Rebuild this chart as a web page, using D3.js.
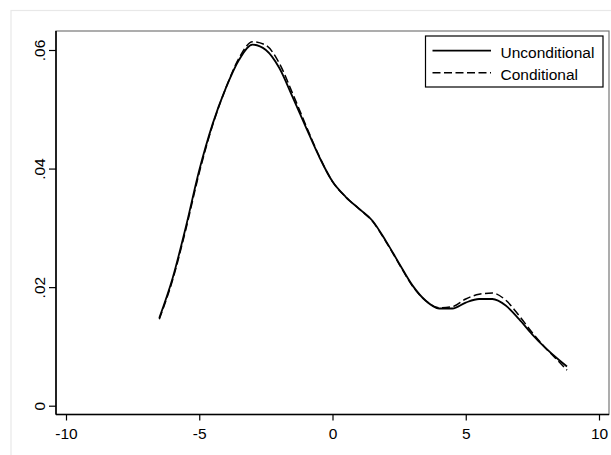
<!DOCTYPE html>
<meta charset="utf-8">
<style>
body { margin: 0; background: #fff; }
text { font-family: "Liberation Sans", Arial, sans-serif; fill: #000; }
.tick line { stroke: #000; stroke-width: 1.2px; }
.curve { fill: none; stroke: #000; }
</style>
<svg width="611" height="455"></svg>
<script src="https://d3js.org/d3.v7.min.js"></script>
<script>

// values
var xs = [-6.5, -6, -5.5, -5, -4.5, -4, -3.5, -3, -2.5, -2, -1.5, -1, -0.5, 0, 0.5, 1,
          1.5, 2, 2.5, 3, 3.5, 4, 4.5, 5, 5.5, 6, 6.5, 7, 7.5, 8, 8.5, 8.8];
var uncond = [.0148, .0215, .0302, .0397, .0475, .0536, .0584, .0609, .0600, .0570, .0521, .0470,
              .0420, .0378, .0352, .0332, .0312, .0278, .0240, .0203, .0177, .0164, .0164, .0174,
              .0180, .0180, .0169, .0146, .0120, .0097, .0077, .0066];
var cond = [.0146, .0212, .0298, .0393, .0473, .0536, .0587, .0614, .0608, .0578, .0527, .0473,
            .0421, .0378, .0352, .0332, .0311, .0277, .0239, .0202, .0177, .0165, .0167, .0180,
            .0188, .0190, .0178, .0152, .0123, .0097, .0074, .0060];
var xTicks = [-10, -5, 0, 5, 10];
var yTicks = [0, .02, .04, .06];
var yLabels = ["0", ".02", ".04", ".06"];
var seriesNames = ["Unconditional", "Conditional"];

var svg = d3.select("svg");

// light outer frame of the graph region
svg.append("rect")
    .attr("x", 11).attr("y", 10.5)
    .attr("width", 640).attr("height", 480)
    .attr("fill", "#fff")
    .attr("stroke", "#e8e8e8")
    .attr("stroke-width", 1.2);

var x = d3.scaleLinear().domain([-10, 10]).range([66, 599]);
var y = d3.scaleLinear().domain([0, .06]).range([405.7, 50]);

var pLeft = 56, pRight = 609, pTop = 31, pBottom = 414.5;

// plot region outline
svg.append("rect")
    .attr("x", pLeft).attr("y", pTop)
    .attr("width", pRight - pLeft).attr("height", pBottom - pTop)
    .attr("fill", "#fff")
    .attr("stroke", "#777")
    .attr("stroke-width", 1.2);

svg.append("line")
    .attr("x1", pLeft).attr("x2", pLeft).attr("y1", pTop).attr("y2", pBottom)
    .attr("stroke", "#000").attr("stroke-width", 1.6);
svg.append("line")
    .attr("x1", pLeft).attr("x2", pRight).attr("y1", pBottom).attr("y2", pBottom)
    .attr("stroke", "#000").attr("stroke-width", 1.6);

// x axis
var gx = svg.append("g")
    .attr("transform", "translate(0," + pBottom + ")")
    .call(d3.axisBottom(x).tickValues(xTicks).tickSize(6).tickPadding(6)
      .tickFormat(function(d) { return d; }));
gx.select(".domain").remove();
gx.selectAll("text").style("font-size", "15.5px").attr("dy", "0.8em");

// y axis with rotated labels
var gy = svg.append("g")
    .attr("transform", "translate(" + pLeft + ",0)")
    .call(d3.axisLeft(y).tickValues(yTicks).tickSize(7)
      .tickFormat(function(d, i) { return yLabels[i]; }));
gy.select(".domain").remove();
gy.selectAll("text")
    .style("font-size", "15.5px")
    .attr("text-anchor", "middle")
    .attr("transform", "rotate(-90)")
    .attr("x", 0)
    .attr("y", -11.5)
    .attr("dy", 0);

var line = d3.line()
    .x(function(d, i) { return x(xs[i]); })
    .y(function(d) { return y(d); })
    .curve(d3.curveMonotoneX);

svg.append("path")
    .datum(cond)
    .attr("class", "curve")
    .attr("stroke-width", 1.5)
    .attr("stroke-dasharray", "8,3.5")
    .attr("d", line);

svg.append("path")
    .datum(uncond)
    .attr("class", "curve")
    .attr("stroke-width", 1.8)
    .attr("d", line);

// legend
var lg = svg.append("g");
lg.append("rect")
    .attr("x", 425.5).attr("y", 36)
    .attr("width", 177.5).attr("height", 51)
    .attr("fill", "#fff")
    .attr("stroke", "#000")
    .attr("stroke-width", 1.2);

var items = lg.selectAll("g.item")
    .data(seriesNames)
    .enter().append("g")
    .attr("class", "item")
    .attr("transform", function(d, i) { return "translate(0," + (50.7 + i * 22) + ")"; });

items.append("line")
    .attr("x1", 432.5).attr("x2", 491)
    .attr("stroke", "#000")
    .attr("stroke-width", function(d, i) { return i ? 1.5 : 1.8; })
    .attr("stroke-dasharray", function(d, i) { return i ? "8,3.5" : null; });

items.append("text")
    .attr("x", 500.5)
    .attr("y", 6.8)
    .style("font-size", "15.5px")
    .text(function(d) { return d; });

</script>
